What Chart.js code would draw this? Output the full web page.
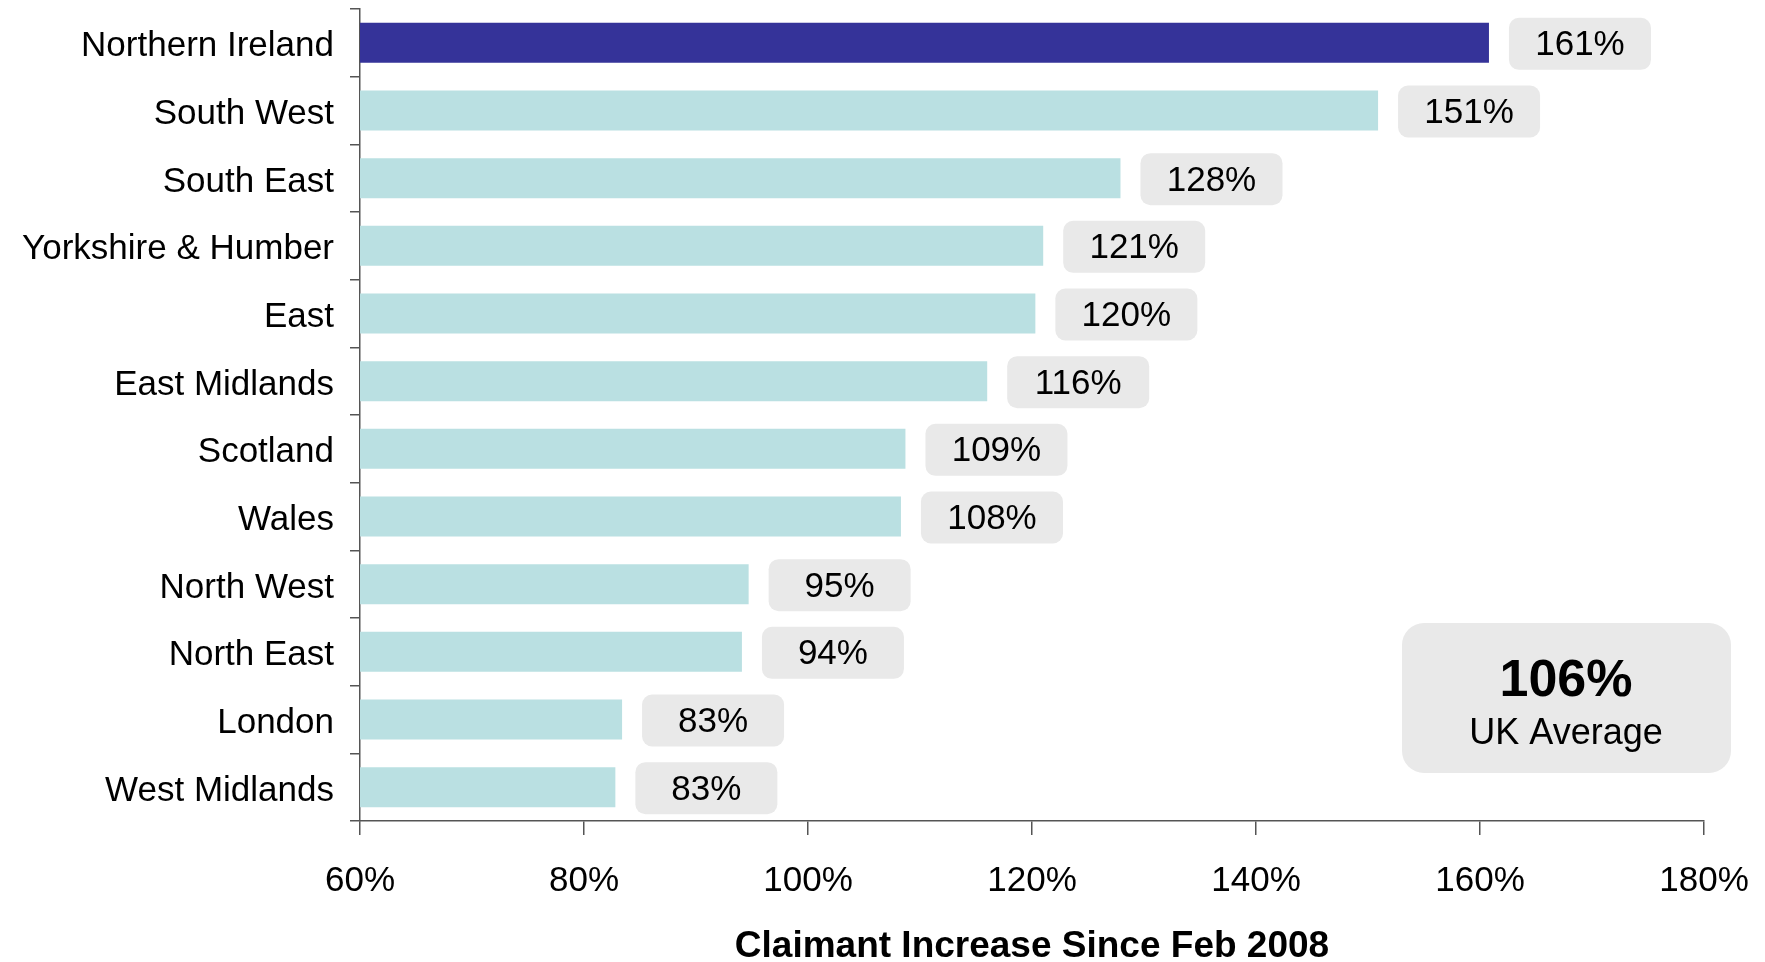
<!DOCTYPE html>
<html>
<head>
<meta charset="utf-8">
<script src="https://cdn.jsdelivr.net/npm/chart.js@4.4.1/dist/chart.umd.min.js"></script>
<style>
  html, body { margin: 0; padding: 0; background: #fff; }
  #wrap { width: 1765px; height: 962px; position: relative; }
</style>
</head>
<body>
<div id="wrap"><canvas id="chart"></canvas></div>
<script>
const regions = ['Northern Ireland', 'South West', 'South East', 'Yorkshire & Humber', 'East',
  'East Midlands', 'Scotland', 'Wales', 'North West', 'North East', 'London', 'West Midlands'];
const increase = [160.8, 150.9, 127.9, 121.0, 120.3, 116.0, 108.7, 108.3, 94.7, 94.1, 83.4, 82.8];
const ukAverage = 106;
const xTicks = [60, 80, 100, 120, 140, 160, 180];

const FONT = '"Liberation Sans", Arial, sans-serif';
const AXIS = '#555555';

// grey rounded boxes with the rounded value, plus the UK average box
const valueBoxes = {
  id: 'valueBoxes',
  afterDatasetsDraw(chart) {
    const ctx = chart.ctx;
    const meta = chart.getDatasetMeta(0);
    ctx.save();
    ctx.textAlign = 'center';
    ctx.textBaseline = 'middle';
    meta.data.forEach((bar, i) => {
      const x = bar.x + 20;
      ctx.fillStyle = '#e9e9e9';
      ctx.beginPath();
      ctx.roundRect(x, bar.y - 25, 142, 52, 10);
      ctx.fill();
      ctx.fillStyle = '#000';
      ctx.font = '35px ' + FONT;
      ctx.fillText(Math.round(increase[i]) + '%', x + 71, bar.y + 3);
    });

    const area = chart.chartArea;
    const bx = area.right + 27 - 329, by = area.bottom - 198;
    ctx.fillStyle = '#e9e9e9';
    ctx.beginPath();
    ctx.roundRect(bx, by, 329, 150, 22);
    ctx.fill();
    ctx.fillStyle = '#000';
    ctx.font = 'bold 52px ' + FONT;
    ctx.fillText(ukAverage + '%', bx + 164, by + 59);
    ctx.font = '36px ' + FONT;
    ctx.fillText('UK Average', bx + 164, by + 111);
    ctx.restore();
  }
};

new Chart(document.getElementById('chart'), {
  type: 'bar',
  data: {
    labels: regions,
    datasets: [{
      data: increase,
      backgroundColor: regions.map((r, i) => i === 0 ? '#353399' : '#bae0e2'),
      barPercentage: 0.59,
      categoryPercentage: 1
    }]
  },
  options: {
    indexAxis: 'y',
    responsive: true,
    maintainAspectRatio: false,
    animation: false,
    layout: { padding: { top: 9, right: 61, left: 0, bottom: 0 } },
    plugins: { legend: { display: false }, tooltip: { enabled: false } },
    scales: {
      x: {
        min: 60,
        max: 180,
        afterBuildTicks: s => { s.ticks = xTicks.map(v => ({ value: v })); },
        afterFit: s => { s.height = 141; s.paddingLeft = 0; s.paddingRight = 0; },
        border: { color: AXIS, width: 1.5 },
        grid: { drawOnChartArea: false, tickLength: 14, color: AXIS, lineWidth: 1.5 },
        ticks: {
          color: '#000',
          padding: 25,
          maxRotation: 0,
          font: { family: FONT, size: 35 },
          callback: v => v + '%'
        },
        title: {
          display: true,
          text: 'Claimant Increase Since Feb 2008',
          color: '#000',
          padding: 0,
          font: { family: FONT, size: 37, weight: 'bold', lineHeight: 0.8 }
        }
      },
      y: {
        afterFit: s => { s.width = 360; s.paddingTop = 0; s.paddingBottom = 0; },
        border: { color: AXIS, width: 1.5 },
        grid: { drawOnChartArea: false, tickLength: 10, color: AXIS, lineWidth: 1.5 },
        ticks: { color: '#000', padding: 16, labelOffset: 4, font: { family: FONT, size: 35 } }
      }
    }
  },
  plugins: [valueBoxes]
});
</script>
</body>
</html>
